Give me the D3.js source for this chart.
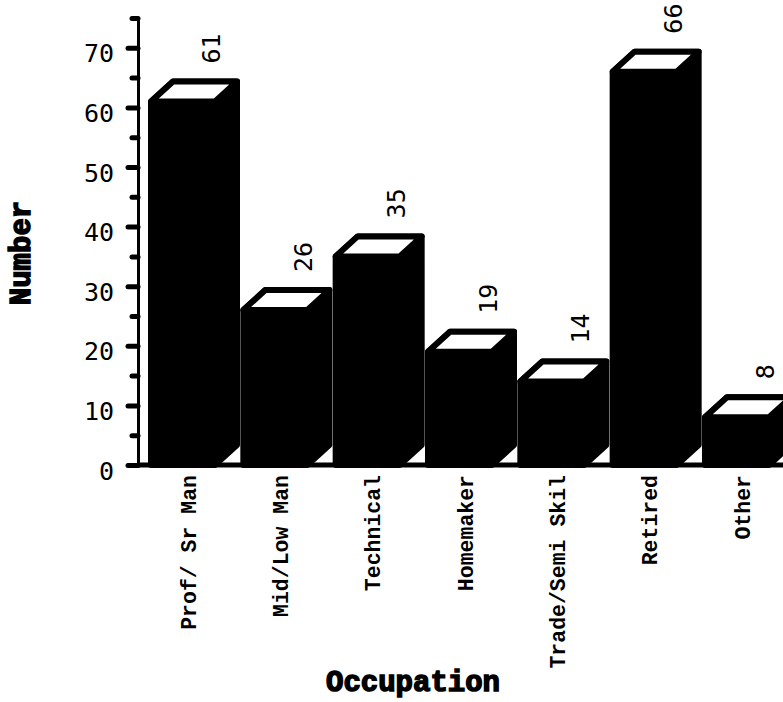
<!DOCTYPE html>
<html>
<head>
<meta charset="utf-8">
<script src="https://cdn.jsdelivr.net/npm/d3@7/dist/d3.min.js"></script>
<style>
  html, body { margin: 0; padding: 0; background: #fff; }
  svg { display: block; }
</style>
</head>
<body>
<svg id="chart" width="783" height="702"></svg>
<script>
// Occupation counts
const categories = ["Prof/ Sr Man", "Mid/Low Man", "Technical", "Homemaker", "Trade/Semi Skil", "Retired", "Other"];
const counts = [61, 26, 35, 19, 14, 66, 8];
const majorTicks = [0, 10, 20, 30, 40, 50, 60, 70];
const minorTicks = [5, 15, 25, 35, 45, 55, 65, 75];

const svg = d3.select("#chart");
const W = 783, H = 702;

const axisX = 138;
const y = d3.scaleLinear().domain([0, 75]).range([465, 18]);
const x = d3.scaleBand().domain(categories).range([151, 769])
  .paddingInner(0.3068).paddingOuter(0);

// 3D bar depth
const dx = 22, dy = 20;
const base = y(0);

const bars = svg.append("g").attr("class", "bars");
categories.forEach((c, i) => {
  const L = x(c), w = x.bandwidth(), t = y(counts[i]);
  const g = bars.append("g");
  // front + side silhouette
  g.append("path")
    .attr("d", `M${L},${base} L${L},${t} L${L + dx},${t - dy} L${L + w + dx},${t - dy} L${L + w + dx},${base - dy} L${L + w},${base} Z`)
    .attr("fill", "#000").attr("stroke", "#000")
    .attr("stroke-width", 6).attr("stroke-linejoin", "round");
  // top face
  g.append("path")
    .attr("d", `M${L},${t} L${L + dx},${t - dy} L${L + w + dx},${t - dy} L${L + w},${t} Z`)
    .attr("fill", "#fff").attr("stroke", "#000")
    .attr("stroke-width", 6).attr("stroke-linejoin", "round");
  // value label
  const lx = L + 60, ly = t - 38;
  g.append("text")
    .attr("transform", `translate(${lx},${ly}) rotate(-90)`)
    .attr("dy", "0.36em")
    .attr("text-anchor", "start")
    .attr("font-family", "DejaVu Sans Mono, monospace")
    .attr("font-size", 25)
    .attr("fill", "#000")
    .text(counts[i]);
});

// floor line
svg.append("line")
  .attr("x1", axisX).attr("x2", W)
  .attr("y1", base).attr("y2", base)
  .attr("stroke", "#000").attr("stroke-width", 5);

// y axis
const yAxis = svg.append("g").attr("transform", `translate(${axisX},0)`)
  .call(d3.axisLeft(y).tickValues(majorTicks).tickSize(10).tickPadding(14).tickSizeOuter(0));
yAxis.select(".domain").attr("stroke-width", 3);
yAxis.selectAll(".tick line").attr("stroke-width", 5).attr("stroke-linecap", "round");
yAxis.selectAll(".tick text")
  .attr("font-family", "DejaVu Sans Mono, monospace")
  .attr("font-size", 25)
  .attr("dy", "0.56em")
  .attr("fill", "#000");

const yMinor = svg.append("g").attr("transform", `translate(${axisX},0)`)
  .call(d3.axisLeft(y).tickValues(minorTicks).tickSize(6).tickFormat("").tickSizeOuter(0));
yMinor.select(".domain").attr("stroke-width", 3);
yMinor.selectAll(".tick line").attr("stroke-width", 5).attr("stroke-linecap", "round");

// category labels
svg.append("g").selectAll("text")
  .data(categories)
  .join("text")
  .attr("transform", d => `translate(${x(d) + x.bandwidth() / 2 + 5},475) rotate(-90)`)
  .attr("dy", "0.35em")
  .attr("text-anchor", "end")
  .attr("font-family", "Liberation Mono, Courier New, monospace")
  .attr("font-weight", "bold")
  .attr("font-size", 21.5)
  .attr("fill", "#000")
  .text(d => d);

// axis titles
svg.append("text")
  .attr("x", 413).attr("y", 691)
  .attr("text-anchor", "middle")
  .attr("font-family", "Liberation Mono, Courier New, monospace")
  .attr("font-weight", "bold")
  .attr("font-size", 29)
  .attr("fill", "#000").attr("stroke", "#000").attr("stroke-width", 1.5)
  .text("Occupation");

svg.append("text")
  .attr("transform", "translate(20,253) rotate(-90)")
  .attr("dy", "0.35em")
  .attr("text-anchor", "middle")
  .attr("font-family", "Liberation Mono, Courier New, monospace")
  .attr("font-weight", "bold")
  .attr("font-size", 29)
  .attr("fill", "#000").attr("stroke", "#000").attr("stroke-width", 1.5)
  .text("Number");
</script>
</body>
</html>
